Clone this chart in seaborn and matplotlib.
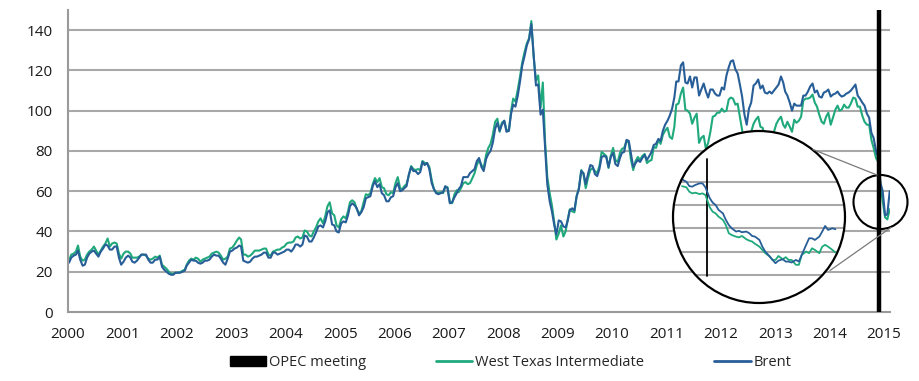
import pandas as pd
import matplotlib
matplotlib.use("Agg")
import matplotlib.pyplot as plt
from matplotlib.patches import Circle, Ellipse, Patch
from matplotlib.lines import Line2D
import seaborn as sns

# crude oil prices, USD/bbl at two points per month
# (first half / second half), Jan 2000 .. early Feb 2015
wti = [
    25.5, 28.5, 29.0, 30.0, 33.0, 27.5, 25.5, 26.0, 28.5, 30.0, 31.0, 32.5, 30.5, 28.5, 30.5, 32.5, 34.0, 36.5, 32.5, 34.0, 34.5, 34.0, 29.0, 26.5,
    29.0, 30.0, 30.0, 29.0, 27.0, 27.0, 27.0, 27.5, 28.5, 28.5, 28.0, 26.5, 26.0, 26.5, 27.5, 27.0, 28.0, 23.5, 22.5, 21.5, 20.0, 19.0, 19.0, 19.5,
    19.5, 19.8, 20.5, 21.0, 23.5, 25.5, 26.5, 26.0, 27.0, 26.5, 25.0, 26.0, 26.5, 27.0, 27.5, 29.0, 29.5, 30.0, 29.5, 28.0, 26.0, 26.5, 27.5, 31.5,
    32.0, 33.5, 35.5, 37.0, 36.0, 28.5, 28.5, 27.5, 28.0, 29.0, 30.5, 30.5, 30.5, 31.0, 31.5, 31.5, 28.5, 28.0, 30.0, 30.5, 31.0, 31.0, 32.0, 32.5,
    34.0, 34.5, 34.5, 35.0, 37.0, 37.5, 36.5, 37.0, 40.5, 40.0, 38.0, 37.5, 40.0, 42.0, 45.0, 46.5, 44.0, 47.5, 52.5, 54.5, 49.0, 48.0, 43.0, 42.0,
    46.0, 47.5, 46.5, 50.0, 54.5, 55.5, 54.5, 51.0, 49.0, 50.0, 54.5, 58.5, 58.0, 59.0, 63.5, 66.5, 64.5, 66.5, 62.0, 61.5, 58.5, 58.0, 59.5, 59.0,
    64.0, 67.0, 61.5, 61.0, 62.5, 63.5, 68.0, 72.5, 71.0, 70.5, 71.0, 70.5, 75.0, 74.0, 74.0, 72.0, 65.5, 61.0, 59.5, 59.0, 59.5, 59.0, 62.0, 62.0,
    54.5, 54.0, 58.5, 60.5, 59.5, 61.5, 64.0, 64.5, 63.5, 64.0, 66.5, 69.0, 73.0, 75.5, 73.0, 71.5, 78.0, 81.5, 83.5, 88.0, 94.5, 96.0, 89.5, 94.0,
    95.0, 90.5, 90.0, 100.0, 106.0, 104.5, 110.5, 117.0, 124.0, 129.0, 133.5, 136.0, 144.5, 127.0, 115.0, 117.5, 101.5, 114.0, 85.0, 67.0, 59.0, 53.0, 45.0, 36.0,
    39.0, 43.0, 37.5, 40.0, 45.5, 51.0, 50.0, 49.5, 57.5, 61.5, 70.5, 68.5, 61.5, 66.5, 70.5, 71.5, 70.0, 69.0, 72.5, 79.5, 78.5, 77.5, 71.5, 77.5,
    81.5, 75.5, 74.5, 79.0, 81.0, 81.5, 85.0, 84.0, 75.5, 70.5, 75.0, 77.0, 75.5, 77.5, 78.5, 74.0, 75.0, 75.5, 82.0, 81.5, 85.5, 83.5, 88.0, 90.0,
    91.5, 87.0, 86.0, 92.0, 103.0, 103.5, 108.5, 111.5, 100.5, 100.0, 98.5, 93.5, 96.5, 98.5, 84.0, 86.5, 87.5, 81.0, 84.0, 89.5, 97.0, 97.5, 99.0, 99.0,
    101.0, 99.5, 100.0, 105.5, 106.5, 106.0, 103.0, 103.5, 97.0, 90.5, 83.5, 80.5, 86.0, 89.5, 93.5, 95.5, 97.0, 92.0, 91.5, 87.0, 85.5, 87.5, 86.5, 89.5,
    93.5, 95.5, 97.0, 93.0, 91.5, 94.5, 92.0, 89.5, 95.5, 94.0, 95.0, 97.0, 105.0, 106.0, 106.0, 106.5, 108.0, 104.0, 102.0, 98.0, 94.5, 93.5, 97.0, 99.0,
    93.0, 96.5, 100.5, 102.5, 100.0, 100.5, 103.0, 101.5, 101.5, 103.5, 106.5, 106.0, 102.0, 102.0, 97.5, 94.5, 93.0, 93.0, 85.5, 81.5, 76.5, 74.5, 63.5, 55.0,
    47.0, 46.0, 51.0,
]
brent = [
    24.5, 27.0, 28.0, 28.5, 30.5, 26.0, 23.0, 23.5, 27.0, 29.0, 30.0, 30.5, 29.0, 27.5, 30.0, 31.5, 33.5, 33.0, 31.0, 31.0, 32.5, 32.5, 27.0, 23.5,
    25.0, 27.0, 28.0, 27.0, 25.0, 24.5, 25.5, 27.0, 28.5, 28.5, 28.5, 26.0, 24.5, 24.5, 26.0, 26.0, 27.5, 22.5, 21.0, 20.0, 19.0, 18.5, 18.5, 19.5,
    19.5, 19.5, 20.0, 20.5, 23.0, 24.5, 26.0, 25.5, 25.5, 24.5, 24.0, 24.5, 25.5, 25.5, 26.0, 27.5, 28.5, 28.0, 28.0, 26.5, 24.5, 23.5, 26.5, 30.0,
    30.5, 31.5, 32.0, 33.0, 32.5, 25.5, 25.0, 24.5, 25.0, 26.5, 27.5, 27.5, 28.0, 28.5, 29.5, 29.5, 27.0, 27.0, 29.5, 29.5, 28.5, 29.0, 29.5, 30.0,
    31.0, 31.0, 30.0, 31.5, 33.5, 33.5, 32.5, 33.5, 38.0, 37.5, 35.0, 35.0, 37.0, 39.5, 42.5, 43.0, 42.0, 45.0, 49.5, 50.5, 43.5, 43.0, 40.0, 39.5,
    44.0, 45.0, 44.5, 48.0, 52.5, 54.0, 53.0, 51.5, 48.0, 49.5, 52.0, 56.5, 57.0, 57.5, 62.5, 65.0, 62.0, 63.5, 59.0, 58.0, 55.0, 55.0, 57.0, 57.5,
    62.0, 64.0, 60.0, 60.5, 61.5, 62.5, 68.5, 72.0, 70.0, 70.0, 68.5, 69.5, 74.5, 73.0, 74.0, 71.0, 64.0, 61.0, 59.0, 58.5, 59.0, 59.5, 62.5, 61.5,
    54.0, 54.5, 57.0, 59.0, 61.0, 62.5, 67.0, 67.0, 67.0, 69.0, 70.0, 71.0, 75.0, 76.5, 72.0, 70.0, 76.0, 78.5, 80.0, 84.0, 91.0, 94.0, 90.0, 93.0,
    95.0, 89.5, 90.0, 98.5, 103.0, 102.0, 107.5, 114.5, 122.5, 127.0, 132.5, 135.5, 143.0, 128.0, 112.5, 113.0, 98.0, 100.5, 82.0, 63.5, 55.0, 50.0, 43.5, 38.5,
    45.5, 45.0, 42.5, 42.0, 45.0, 50.5, 51.5, 50.5, 57.5, 61.0, 70.0, 69.0, 63.5, 68.5, 73.0, 72.5, 68.5, 67.5, 71.0, 77.0, 77.5, 77.0, 72.0, 77.0,
    79.0, 73.5, 72.5, 76.5, 79.0, 79.5, 85.5, 85.0, 78.5, 72.0, 74.0, 75.5, 74.5, 76.5, 78.0, 75.5, 77.5, 79.5, 83.0, 83.5, 86.0, 85.0, 90.0, 93.0,
    95.0, 97.5, 101.0, 106.5, 114.5, 114.5, 122.5, 124.0, 114.0, 113.5, 117.0, 111.5, 116.5, 116.5, 107.5, 110.5, 113.5, 109.5, 106.5, 110.5, 110.5, 108.5, 107.5, 107.5,
    111.5, 110.5, 117.5, 121.5, 124.5, 125.0, 120.5, 118.5, 113.0, 107.0, 98.0, 93.0, 101.0, 104.0, 112.5, 113.5, 115.5, 111.0, 112.5, 109.0, 108.5, 109.5, 108.5, 110.0,
    111.5, 113.0, 117.0, 114.0, 109.5, 107.5, 104.0, 100.0, 103.5, 102.5, 102.5, 102.5, 107.5, 107.5, 109.5, 112.0, 113.5, 109.0, 110.0, 107.0, 106.5, 109.0, 109.5, 110.5,
    107.0, 108.0, 108.5, 109.5, 108.0, 107.0, 107.5, 108.5, 109.0, 110.0, 111.5, 113.0, 107.5, 106.0, 104.0, 102.5, 98.5, 96.5, 89.0, 86.5, 80.0, 76.5, 64.0, 60.0,
    48.0, 48.5, 60.0,
]
opec_meeting = "2014-11-27"
year_labels = [str(y) for y in range(2000, 2016)]

# zoomed view around the meeting: days relative to 27 Nov 2014
inset_days = [-17, -14, -12, -10, -8, -5, -3, -1, 2, 4, 6, 8, 11, 13, 15, 17, 20, 22, 24, 27,
              29, 31, 33, 36, 38, 40, 43, 45, 47, 49, 52, 54, 56, 58, 61, 63, 65, 68, 70, 72,
              74, 77, 79, 81, 83, 86, 88]
inset_wti = [78.1, 77.6, 75.7, 75.0, 75.3, 74.7, 75.0, 74.3, 69.0, 67.1, 66.4, 65.0, 63.6, 61.4, 57.9, 57.1,
             56.4, 56.1, 56.7, 55.3, 54.7, 54.3, 53.3, 52.1, 50.7, 49.3, 47.9, 46.4, 46.4, 48.1, 46.7, 47.6,
             46.4, 46.4, 44.3, 44.3, 48.6, 50.0, 49.3, 51.4, 50.7, 49.3, 52.1, 52.9, 52.1, 50.7, 49.6]
inset_brent = [81.0, 80.0, 78.1, 77.9, 78.6, 79.3, 79.3, 77.6, 72.9, 71.0, 70.0, 67.9, 66.4, 63.6, 61.4, 60.0,
               58.6, 58.9, 58.3, 58.6, 57.9, 56.7, 56.4, 55.0, 52.1, 50.0, 47.9, 46.4, 45.0, 46.1, 46.7, 45.7,
               45.7, 45.3, 46.4, 45.7, 48.6, 52.9, 55.7, 55.7, 55.0, 56.4, 58.6, 61.0, 59.3, 60.0, 59.6]

GREEN = "#1fa97c"
BLUE = "#285e98"
GRID = "#a8a8a8"
AXIS = "#9a9a9a"
W, H = 920, 381

sns.set_style("white")
plt.rcParams["font.family"] = ["Open Sans", "DejaVu Sans"]

# half-month positions for the price series
months = pd.date_range("2000-01-01", "2015-02-01", freq="MS")
dates = []
for m in months:
    dates += [m + pd.Timedelta(days=7), m + pd.Timedelta(days=22)]
df = pd.DataFrame({"date": dates[:len(wti)], "wti": wti, "brent": brent})

fig = plt.figure(figsize=(W / 100, H / 100), dpi=100)
ax = fig.add_axes([68 / W, 1 - 312 / H, 822 / W, 302 / H])

sns.lineplot(data=df, x="date", y="wti", ax=ax, color=GREEN, lw=1.5)
sns.lineplot(data=df, x="date", y="brent", ax=ax, color=BLUE, lw=1.5)
ax.axvline(pd.Timestamp(opec_meeting), color="black", lw=3.2, zorder=5)

ax.set_xlim(pd.Timestamp("2000-01-01"), pd.Timestamp("2015-02-10"))
ax.set_ylim(0, 150)
ax.set_yticks(range(0, 141, 20))
ax.set_xticks([pd.Timestamp(f"{y}-01-01") for y in year_labels])
ax.set_xticklabels(year_labels)
ax.set_xlabel("")
ax.set_ylabel("")
for v in range(20, 141, 20):
    ax.axhline(v, color=GRID, lw=1.5, zorder=0)
sns.despine(ax=ax)
for s in ("left", "bottom"):
    ax.spines[s].set_color(AXIS)
    ax.spines[s].set_linewidth(1.5)
ax.tick_params(axis="both", colors=AXIS, length=4, width=1.2, labelsize=11,
               labelcolor="#1a1a1a", direction="out")
ax.tick_params(axis="y", pad=7)
ax.tick_params(axis="x", pad=7)

# small marker ring around the end of the series
fig.add_artist(Ellipse((880.5 / W, 1 - 202 / H), 54 / W, 54 / H, transform=fig.transFigure,
                       fill=False, edgecolor="black", lw=1.5, zorder=6))
# connector lines from the ring to the magnified view
fig.add_artist(Line2D([813 / W, 877 / W], [1 - 149.5 / H, 1 - 175 / H], transform=fig.transFigure,
                      color="#7a7a7a", lw=0.9, zorder=6))
fig.add_artist(Line2D([830 / W, 891 / W], [1 - 270.5 / H, 1 - 227.5 / H], transform=fig.transFigure,
                      color="#7a7a7a", lw=0.9, zorder=6))

# magnified circular view
ax_in = fig.add_axes([673 / W, 1 - 303 / H, 172 / W, 172 / H])
ax_in.set_xlim(-23.2, 94.6)
ax_in.set_ylim(27.9, 101.8)
ax_in.axis("off")
disc = Circle((0.5, 0.5), 0.5, transform=ax_in.transAxes, facecolor="white", edgecolor="none", zorder=0)
ax_in.add_patch(disc)
for v in range(40, 81, 10):
    ax_in.axhline(v, color=GRID, lw=1.5, zorder=1, clip_path=disc)
ax_in.axvline(0, ymin=0.157, ymax=0.84, color="black", lw=1.3, zorder=2)
sns.lineplot(x=inset_days, y=inset_wti, ax=ax_in, color=GREEN, lw=1.3)
sns.lineplot(x=inset_days, y=inset_brent, ax=ax_in, color=BLUE, lw=1.3)
for ln in ax_in.lines:
    ln.set_clip_path(disc)
ax_in.add_patch(Circle((0.5, 0.5), 0.5, transform=ax_in.transAxes, fill=False,
                       edgecolor="black", lw=1.6, zorder=10, clip_on=False))

handles = [Patch(facecolor="black", edgecolor="black"),
           Line2D([], [], color=GREEN, lw=2),
           Line2D([], [], color=BLUE, lw=2)]
fig.legend(handles, ["OPEC meeting", "West Texas Intermediate", "Brent"],
           loc="center", bbox_to_anchor=(0.555, 0.048), ncol=3, frameon=False,
           fontsize=10.5, handlelength=2.5, handleheight=0.6, handletextpad=0.2,
           columnspacing=4.8)

fig.savefig("out.png", dpi=100)
